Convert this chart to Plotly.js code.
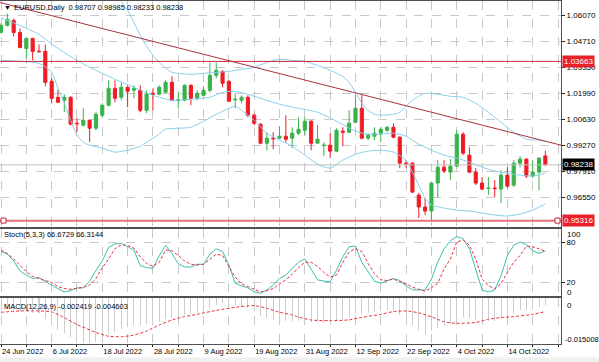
<!DOCTYPE html>
<html><head><meta charset="utf-8">
<script src="https://cdn.plot.ly/plotly-3.0.1.min.js"></script>
<style>html,body{margin:0;padding:0;background:#fff;}#chart{width:599px;height:362px;}</style>
</head><body><div id="chart"></div>
<script>
// ---------------- DATA ----------------
const symbolTitle = "EURUSD,Daily";
const lastOHLC = [0.98707, 0.98985, 0.98233, 0.98238];
const openP = [1.05181,1.05547,1.05809,1.05181,1.04344,1.04867,1.04200,1.04187,1.02618,1.01781,
1.01625,1.01781,1.00422,1.00317,1.00578,1.00160,1.00840,1.01363,1.02252,1.01781,
1.02304,1.02147,1.02147,1.01102,1.01991,1.01938,1.02043,1.02566,1.01600,1.01625,
1.02409,1.01729,1.01886,1.02147,1.02932,1.03141,1.02618,1.01650,1.01625,1.01781,
1.00840,1.00369,0.99375,0.99637,0.99637,0.99741,0.99637,0.99898,1.00055,1.00526,
0.99375,0.99245,0.99271,0.98957,1.00003,0.99951,1.00474,1.01206,0.99637,0.99741,
0.99898,1.00055,1.00212,0.99689,0.98330,0.98330,0.96656,0.96029,0.95819,0.97284,
0.98120,0.97859,0.98173,0.99846,0.98748,0.97859,0.97284,0.97000,0.97022,0.96970,
0.97702,0.97179,0.98330,0.98539,0.97650,0.97859,0.98707];
const highP = [1.05651,1.06175,1.05913,1.05390,1.04919,1.04900,1.04553,1.04553,1.02775,1.02200,
1.01938,1.01834,1.00683,1.01206,1.00600,1.00997,1.01468,1.02671,1.02671,1.02566,
1.02409,1.02409,1.02409,1.02147,1.02252,1.02409,1.02671,1.02880,1.02043,1.02461,
1.02461,1.02147,1.02357,1.03612,1.03612,1.03194,1.02671,1.01938,1.01886,1.01886,
1.00945,1.00422,0.99951,0.99951,1.00264,1.00840,1.00212,1.00735,1.00735,1.00578,
1.00317,0.99428,0.99898,1.00160,1.00212,1.01102,1.01886,1.01886,0.99898,1.00212,
1.00212,1.00264,1.00422,0.99741,0.98487,0.98382,0.96761,0.96499,0.97336,0.98487,
0.98487,0.98539,1.00055,0.99951,0.99166,0.98068,0.97600,0.97600,0.97440,0.97963,
0.98120,0.98487,0.98696,0.98591,0.98487,0.98643,0.98985];
const lowP = [1.05129,1.05495,1.04972,1.04344,1.03821,1.03717,1.04135,1.02357,1.01468,1.01468,
1.00997,1.00317,0.99951,1.00264,0.99428,1.00055,1.00735,1.01311,1.01520,1.01625,
1.01258,1.01729,1.00997,1.00945,1.01102,1.01886,1.01991,1.01572,1.01206,1.01572,
1.01363,1.01625,1.01834,1.02043,1.02775,1.02304,1.01572,1.01206,1.01468,1.00735,
1.00317,0.99323,0.99009,0.99061,0.99584,0.99428,0.99114,0.99794,0.99794,0.99009,
0.99375,0.98696,0.98591,0.98905,0.99219,0.99898,1.00422,0.99584,0.99532,0.99532,
0.99428,0.99951,0.99637,0.98068,0.98068,0.96761,0.95453,0.95610,0.95350,0.96552,
0.97806,0.97440,0.98120,0.98748,0.97806,0.97179,0.96918,0.96656,0.96552,0.96238,
0.97022,0.97075,0.98120,0.97545,0.97545,0.96918,0.98233];
const closeP = [1.05547,1.05861,1.05181,1.04396,1.04867,1.04187,1.04170,1.02566,1.01729,1.01520,
1.01781,1.00369,1.00395,1.00578,1.00160,1.00892,1.01363,1.02252,1.01729,1.02304,
1.02095,1.02252,1.01102,1.01938,1.01938,1.02304,1.02566,1.01625,1.01650,1.02409,
1.01729,1.01991,1.02147,1.02932,1.03194,1.02514,1.01572,1.01677,1.01781,1.00840,
1.00422,0.99375,0.99637,0.99610,0.99741,0.99584,0.99898,1.00108,1.00526,0.99375,
0.99584,0.99271,0.98957,1.00055,0.99951,1.00422,1.01206,0.99637,0.99794,0.99898,
1.00108,1.00212,0.99689,0.98330,0.98300,0.96813,0.96029,0.95819,0.97284,0.98120,
0.97911,0.98173,0.99846,0.98853,0.97859,0.97284,0.96970,0.97022,0.96995,0.97702,
0.97127,0.98330,0.98539,0.97650,0.97859,0.98591,0.98238];

// Bollinger bands (20,2) read at sampled bars
const bbUpX = [19,20,21,22,23,24,25,26,27,28,30,32,34,36,38,40,42,44,46,48,50,52,54,55,56,57,58,59,60,62,63,64,65,66,67,69,71,73,75,77,79,81,83,85,86];
const bbUp  = [1.06802,1.06332,1.05704,1.05024,1.04449,1.03978,1.03612,1.03298,1.03089,1.03037,1.02984,1.03037,1.03089,1.03141,1.03246,1.03350,1.03612,1.03769,1.03717,1.03664,1.03455,1.03194,1.02880,1.02566,1.02043,1.01468,1.01102,1.00892,1.00840,1.00892,1.00997,1.01311,1.01625,1.01834,1.01991,1.01938,1.01834,1.01781,1.01468,1.00997,1.00474,0.99951,0.99584,0.99532,0.99480];
const bbMidX = [0,3,6,9,12,15,18,21,24,27,30,33,35,37,39,41,44,47,50,53,56,58,60,62,64,66,68,70,72,74,76,78,80,82,84,86];
const bbMid  = [1.05941,1.05547,1.05076,1.04344,1.03717,1.03194,1.02723,1.02304,1.01886,1.01625,1.01677,1.01781,1.02043,1.02095,1.01938,1.01729,1.01415,1.01206,1.00997,1.00526,1.00003,0.99846,0.99846,0.99898,0.99741,0.99323,0.99009,0.98748,0.98591,0.98382,0.98120,0.97911,0.97806,0.97702,0.97650,0.97806];
const bbLowX = [0,3,6,8,9,10,11,12,13,14,16,18,20,22,23,25,26,28,30,32,34,36,37,38,40,42,44,46,48,50,52,54,56,58,60,62,64,65,66,67,68,70,72,74,76,78,80,82,84,86];
const bbLow  = [1.03717,1.03664,1.03560,1.03089,1.02252,1.01468,1.00578,0.99794,0.99428,0.99271,0.99114,0.98905,0.99009,0.99219,0.99428,0.99846,1.00108,1.00160,1.00212,1.00526,1.00892,1.01206,1.01311,1.01102,1.00578,0.99898,0.99532,0.99219,0.98748,0.98277,0.98068,0.98487,0.98800,0.98957,0.99009,0.98905,0.98487,0.97859,0.97179,0.96499,0.96133,0.95976,0.95871,0.95819,0.95715,0.95610,0.95558,0.95662,0.95871,0.96186];

// chart objects
const hLines = [1.03663, 0.95316];
const trendX = [-0.16, 88.47];
const trendY = [1.06750, 0.99271];

// axes
const priceTicks = [0.96550,0.97910,0.99270,1.00630,1.01990,1.03350,1.04710,1.06070];
const priceRange = [0.94982, 1.06855];
const dateLabels = ["24 Jun 2022","6 Jul 2022","18 Jul 2022","28 Jul 2022","9 Aug 2022","19 Aug 2022","31 Aug 2022","12 Sep 2022","22 Sep 2022","4 Oct 2022","14 Oct 2022"];
const barsPerLabel = 8;
const xRange = [-0.16, 88.47];

// Stochastic (5,3,3)
const stochText = "Stoch(5,3,3) 66.6729 66.3144";
const stochMain = [66,62,52,37,31,26,27,21,16,11,6,8,12,12,22,38,52,72,77,78,
73,68,45,42,41,60,75,63,48,43,43,47,47,62,70,66,46,19,15,12,
6,4,9,16,26,31,41,50,55,40,24,22,21,38,58,73,74,50,35,22,
19,23,26,23,15,9,9,9,25,50,70,82,88,85,70,40,9,6,9,30,
60,75,80,76,67,63,66.6729];
const stochSignal = [68,63,55,45,36,29,26,24,20,14,11,10,11,13,16,26,42,55,70,76,
75,71,58,48,44,50,68,67,60,52,47,46,47,54,62,60,44,28,18,14,
10,6,8,11,18,24,32,42,50,50,44,35,28,31,50,65,70,66,48,33,
24,23,25,22,18,13,10,7,12,19,40,55,80,83,75,55,25,15,11,18,
35,50,60,74,73,70,66.3144];
const stochLevels = [20, 80];
const stochEdge = [0, 100];

// MACD (12,26,9)
const macdText = "MACD(12,26,9) -0.002419 -0.004603";
const macdMain = [-0.0040,-0.0038,-0.0040,-0.0045,-0.0045,-0.0050,-0.0052,-0.0070,-0.0090,-0.0105,
-0.0115,-0.0130,-0.0145,-0.0148,-0.0150,-0.0145,-0.0135,-0.0120,-0.0113,-0.0102,
-0.0095,-0.0090,-0.0090,-0.0088,-0.0085,-0.0080,-0.0070,-0.0068,-0.0065,-0.0058,
-0.0055,-0.0050,-0.0046,-0.0035,-0.0025,-0.0018,-0.0022,-0.0025,-0.0027,-0.0035,
-0.0045,-0.0060,-0.0068,-0.0072,-0.0074,-0.0077,-0.0077,-0.0076,-0.0072,-0.0080,
-0.0080,-0.0082,-0.0085,-0.0075,-0.0072,-0.0065,-0.0050,-0.0055,-0.0052,-0.0048,
-0.0044,-0.0040,-0.0042,-0.0058,-0.0068,-0.0090,-0.0108,-0.0118,-0.0110,-0.0098,
-0.0092,-0.0085,-0.0068,-0.0065,-0.0068,-0.0072,-0.0078,-0.0078,-0.0078,-0.0068,
-0.0064,-0.0052,-0.0042,-0.0042,-0.0038,-0.0030,-0.002419];
const macdSigX = [0,3,6,8,10,12,15,17,19,21,23,25,27,29,31,34,37,39,40,42,44,46,47,49,52,55,57,60,62,64,66,68,70,72,75,77,79,81,84,86];
const macdSig  = [-0.00482,-0.00438,-0.00438,-0.00470,-0.00660,-0.00880,-0.01140,-0.01265,-0.01280,-0.01226,-0.01095,-0.00898,-0.00734,-0.00624,-0.00548,-0.00420,-0.00320,-0.00272,-0.00263,-0.00350,-0.00482,-0.00569,-0.00640,-0.00734,-0.00756,-0.00730,-0.00650,-0.00548,-0.00460,-0.00438,-0.00500,-0.00630,-0.00790,-0.00843,-0.00815,-0.00712,-0.00655,-0.00624,-0.00548,-0.004603];
const macdRange = [-0.015008, 0];

// ---------------- STYLE / LAYOUT ----------------
const W = 599, H = 362, PR = 561;
const fy = px => 1 - px / H;
const fx = px => px / W;
const FONT = "Liberation Sans, Arial, sans-serif";
const GREEN = "#37b34a", RED = "#ee1c25", BB = "#87ceeb", GRID = "#c8c8c8";
const bars = openP.map((_, i) => i);

const gridVals = [], gridText = [];
for (let i = 0; i <= 88; i += barsPerLabel / 2) {
  gridVals.push(i);
  gridText.push(i % barsPerLabel === 0 ? (dateLabels[i / barsPerLabel] || "") : "");
}

const traces = [
  {type: "candlestick", x: bars, open: openP, high: highP, low: lowP, close: closeP,
   xaxis: "x", yaxis: "y", whiskerwidth: 0, hoverinfo: "skip",
   increasing: {line: {color: GREEN, width: 1}, fillcolor: GREEN},
   decreasing: {line: {color: RED, width: 1}, fillcolor: RED}},
  {type: "scatter", mode: "lines", x: bbUpX, y: bbUp, xaxis: "x", yaxis: "y",
   line: {color: BB, width: 1, shape: "spline", smoothing: 0.6}},
  {type: "scatter", mode: "lines", x: bbMidX, y: bbMid, xaxis: "x", yaxis: "y",
   line: {color: BB, width: 1, shape: "spline", smoothing: 0.6}},
  {type: "scatter", mode: "lines", x: bbLowX, y: bbLow, xaxis: "x", yaxis: "y",
   line: {color: BB, width: 1, shape: "spline", smoothing: 0.6}},
  {type: "scatter", mode: "lines", x: bars, y: stochMain, xaxis: "x2", yaxis: "y2",
   line: {color: "#3cbfae", width: 1}},
  {type: "scatter", mode: "lines", x: bars, y: stochSignal, xaxis: "x2", yaxis: "y2",
   line: {color: "#e8313a", width: 1, dash: "3px,2px"}},
  {type: "bar", x: bars, y: macdMain, xaxis: "x3", yaxis: "y3", width: 0.16,
   marker: {color: "#cdcdcd", line: {width: 0}}},
  {type: "scatter", mode: "lines", x: macdSigX, y: macdSig, xaxis: "x3", yaxis: "y3",
   line: {color: "#e8313a", width: 1, dash: "3px,2px", shape: "spline", smoothing: 0.6}}
];

const xBase = {
  domain: [0, fx(PR)], range: xRange, tickmode: "array", tickvals: gridVals, ticktext: gridText,
  showgrid: true, gridcolor: GRID, griddash: "dash", gridwidth: 1, zeroline: false,
  showline: true, linecolor: "#505050", mirror: true, fixedrange: true, tickangle: 0
};
const yBase = {
  side: "right", showgrid: true, gridcolor: GRID, griddash: "dash", zeroline: false,
  showline: true, linecolor: "#505050", mirror: true, ticks: "outside", ticklen: 3,
  tickcolor: "#202020", tickfont: {family: FONT, size: 8, color: "#000"}, fixedrange: true
};

const layout = {
  width: W, height: H, margin: {l: 0, r: 0, t: 0, b: 0}, showlegend: false,
  paper_bgcolor: "#fff", plot_bgcolor: "#fff", bargap: 0,
  xaxis: Object.assign({}, xBase, {anchor: "y", showticklabels: false, rangeslider: {visible: false}}),
  xaxis2: Object.assign({}, xBase, {anchor: "y2", showticklabels: false}),
  xaxis3: Object.assign({}, xBase, {anchor: "y3", showticklabels: true, ticks: "outside", ticklen: 2,
     tickcolor: "#202020", ticklabelposition: "outside right", ticklabelstandoff: 0,
     ticklabeloverflow: "allow", automargin: false,
     tickfont: {family: FONT, size: 7.5, color: "#000"}}),
  yaxis: Object.assign({}, yBase, {anchor: "x", domain: [fy(227), fy(0.5)], range: priceRange,
     tickmode: "array", tickvals: priceTicks, ticktext: priceTicks.map(v => v.toFixed(5))}),
  yaxis2: Object.assign({}, yBase, {anchor: "x2", domain: [fy(296), fy(228.5)], range: stochEdge,
     tickmode: "array", tickvals: stochLevels, ticktext: stochLevels.map(String)}),
  yaxis3: Object.assign({}, yBase, {anchor: "x3", domain: [fy(343.5), fy(297.5)], range: macdRange,
     tickmode: "array", tickvals: [], showgrid: false}),
  shapes: [
    {type: "line", xref: "x", yref: "y", x0: trendX[0], y0: trendY[0], x1: trendX[1], y1: trendY[1],
     line: {color: "#a8323c", width: 1}},
    {type: "line", xref: "x domain", yref: "y", x0: 0, x1: 1, y0: hLines[0], y1: hLines[0],
     line: {color: "#d0243a", width: 1}},
    {type: "line", xref: "x domain", yref: "y", x0: 0, x1: 1, y0: hLines[1], y1: hLines[1],
     line: {color: "#e8707a", width: 2}},
    {type: "line", xref: "x domain", yref: "y", x0: 0, x1: 1, y0: lastOHLC[3], y1: lastOHLC[3],
     line: {color: "#c0c0c0", width: 1}},
    {type: "rect", xref: "paper", yref: "y", ysizemode: "pixel", yanchor: hLines[1], y0: -2.5, y1: 2.5,
     x0: fx(1), x1: fx(6), line: {color: "#d0243a", width: 1}, fillcolor: "#fff"},
    {type: "rect", xref: "paper", yref: "y", ysizemode: "pixel", yanchor: hLines[1], y0: -2.5, y1: 2.5,
     x0: fx(555), x1: fx(560), line: {color: "#d0243a", width: 1}, fillcolor: "#fff"},
    {type: "rect", xref: "paper", yref: "paper", x0: 0, x1: 1, y0: 0, y1: fy(357.5),
     line: {width: 0}, fillcolor: "#f0f0f0", layer: "below"}
  ],
  annotations: [
    {xref: "paper", yref: "paper", x: fx(2), y: fy(8), xanchor: "left", yanchor: "middle", showarrow: false,
     text: "▼", font: {family: FONT, size: 7, color: "#000"}},
    {xref: "paper", yref: "paper", x: fx(12), y: fy(8), xanchor: "left", yanchor: "middle", showarrow: false,
     text: symbolTitle + "  " + lastOHLC.map(v => v.toFixed(5)).join(" "), font: {family: FONT, size: 7.5, color: "#000"}},
    {xref: "paper", yref: "paper", x: fx(2), y: fy(235), xanchor: "left", yanchor: "middle", showarrow: false,
     text: stochText, font: {family: FONT, size: 7.5, color: "#000"}},
    {xref: "paper", yref: "paper", x: fx(2), y: fy(306), xanchor: "left", yanchor: "middle", showarrow: false,
     text: macdText, font: {family: FONT, size: 7.5, color: "#000"}},
    {xref: "paper", yref: "y", x: fx(562), y: hLines[0], xanchor: "left", yanchor: "middle", showarrow: false,
     text: hLines[0].toFixed(5), bgcolor: "#e8202a", borderpad: 1, font: {family: FONT, size: 8, color: "#fff"}},
    {xref: "paper", yref: "y", x: fx(562), y: lastOHLC[3], xanchor: "left", yanchor: "middle", showarrow: false,
     text: lastOHLC[3].toFixed(5), bgcolor: "#000", borderpad: 1, font: {family: FONT, size: 8, color: "#fff"}},
    {xref: "paper", yref: "y", x: fx(562), y: hLines[1], xanchor: "left", yanchor: "middle", showarrow: false,
     text: hLines[1].toFixed(5), bgcolor: "#e8202a", borderpad: 1, font: {family: FONT, size: 8, color: "#fff"}},
    {xref: "paper", yref: "paper", x: fx(565), y: fy(234), xanchor: "left", yanchor: "middle", showarrow: false,
     text: String(stochEdge[1]), font: {family: FONT, size: 8, color: "#000"}},
    {xref: "paper", yref: "paper", x: fx(565), y: fy(292), xanchor: "left", yanchor: "middle", showarrow: false,
     text: String(stochEdge[0]), font: {family: FONT, size: 8, color: "#000"}},
    {xref: "paper", yref: "paper", x: fx(565), y: fy(305), xanchor: "left", yanchor: "middle", showarrow: false,
     text: String(macdRange[1]), font: {family: FONT, size: 8, color: "#000"}},
    {xref: "paper", yref: "paper", x: fx(563), y: fy(339), xanchor: "left", yanchor: "middle", showarrow: false,
     text: macdRange[0].toFixed(6), font: {family: FONT, size: 7.5, color: "#000"}}
  ]
};

Plotly.newPlot("chart", traces, layout, {staticPlot: true, displayModeBar: false});
</script></body></html>
